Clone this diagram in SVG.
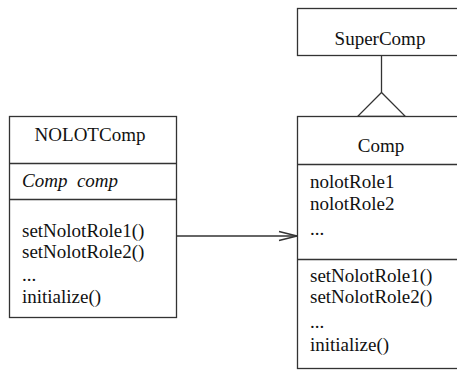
<svg xmlns="http://www.w3.org/2000/svg" width="457" height="370" viewBox="0 0 457 370">
  <style>
    .box { fill: #ffffff; stroke: #333333; stroke-width: 1.3; }
    .sep { stroke: #333333; stroke-width: 1.3; }
    .conn { fill: none; stroke: #333333; stroke-width: 1.3; }
    .lbl { font-size: 19px; fill: #111111; }
    .title { text-anchor: middle; }
    .it { font-style: italic; }
  </style>
  <rect width="457" height="370" fill="#ffffff"/>

  <g id="connectors">
    <!-- generalization: Comp -> SuperComp -->
    <line class="conn" x1="381.5" y1="55.5" x2="381.5" y2="92.5"/>
    <polygon class="conn" points="381.5,92.5 357.5,116.5 405.5,116.5"/>
    <!-- association: NOLOTComp -> Comp -->
    <line class="conn" x1="177" y1="236" x2="297" y2="236"/>
    <polyline class="conn" points="279,231.5 297,236 279,240.5"/>
  </g>

  <g font-family="Liberation Serif, Tinos, Times New Roman, DejaVu Serif, serif">
    <g id="SuperComp">
      <rect class="box" x="297.5" y="8.5" width="170" height="47"/>
      <text class="lbl title" x="380" y="45">SuperComp</text>
    </g>

    <g id="Comp">
      <rect class="box" x="297.5" y="116.5" width="170" height="252"/>
      <line class="sep" x1="297.5" y1="164.5" x2="467" y2="164.5"/>
      <line class="sep" x1="297.5" y1="259.5" x2="467" y2="259.5"/>
      <text class="lbl title" x="381" y="151.5">Comp</text>
      <text class="lbl" x="310" y="187.5">nolotRole1</text>
      <text class="lbl" x="310" y="209.5">nolotRole2</text>
      <text class="lbl" x="310" y="235">...</text>
      <text class="lbl" x="310" y="281.5">setNolotRole1()</text>
      <text class="lbl" x="310" y="303">setNolotRole2()</text>
      <text class="lbl" x="310" y="328">...</text>
      <text class="lbl" x="310" y="351">initialize()</text>
    </g>

    <g id="NOLOTComp">
      <rect class="box" x="9.5" y="116.5" width="167" height="201"/>
      <line class="sep" x1="9.5" y1="163.5" x2="176.5" y2="163.5"/>
      <line class="sep" x1="9.5" y1="199.5" x2="176.5" y2="199.5"/>
      <text class="lbl title" x="90" y="141">NOLOTComp</text>
      <text class="lbl it" x="22" y="187" xml:space="preserve">Comp  comp</text>
      <text class="lbl" x="22" y="236.5">setNolotRole1()</text>
      <text class="lbl" x="22" y="257.5">setNolotRole2()</text>
      <text class="lbl" x="22" y="281">...</text>
      <text class="lbl" x="22" y="302.5">initialize()</text>
    </g>
  </g>
</svg>
